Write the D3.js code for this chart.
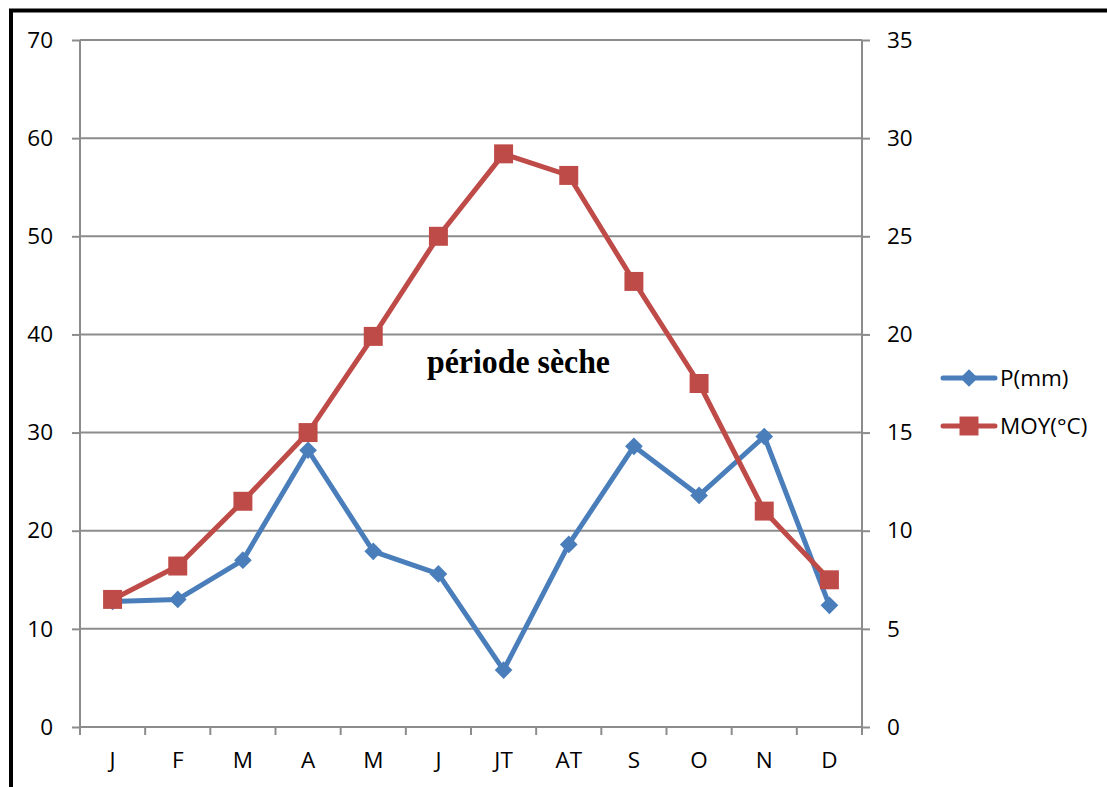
<!DOCTYPE html>
<html>
<head>
<meta charset="utf-8">
<script src="https://cdn.jsdelivr.net/npm/d3@7"></script>
<style>
  html, body { margin: 0; padding: 0; background: #fff; }
  svg { display: block; }
</style>
</head>
<body>
<svg id="chart" width="1107" height="787"></svg>
<script>
// ---- Data ----
const months = ["J", "F", "M", "A", "M ", "J ", "JT", "AT", "S", "O", "N", "D"];
const monthLabels = ["J", "F", "M", "A", "M", "J", "JT", "AT", "S", "O", "N", "D"];
const precip = [12.8, 13.0, 17.0, 28.2, 17.9, 15.6, 5.8, 18.6, 28.6, 23.6, 29.6, 12.4];   // P(mm)
const temp = [6.5, 8.2, 11.5, 15.0, 19.9, 25.0, 29.2, 28.1, 22.7, 17.5, 11.0, 7.5];        // MOY(°C)
const leftTicks = [0, 10, 20, 30, 40, 50, 60, 70];
const rightTicks = [0, 5, 10, 15, 20, 25, 30, 35];
const seriesNames = ["P(mm)", "MOY(°C)"];
const annotation = "période sèche";

// ---- Layout ----
const svg = d3.select("#chart");
const plotLeft = 80, plotRight = 862, plotTop = 40, plotBottom = 727;
const blue = "#4A7EBB", red = "#BE4B48", grid = "#8C8C8C";
const font = "'Open Sans', Lato, sans-serif";
const fontSize = 22.5;

const x = d3.scaleBand().domain(months).range([plotLeft, plotRight]);
const yL = d3.scaleLinear().domain([0, 70]).range([plotBottom, plotTop]);
const yR = d3.scaleLinear().domain([0, 35]).range([plotBottom, plotTop]);

// outer frame
svg.append("rect").attr("x", 11).attr("y", 10.5).attr("width", 1200).attr("height", 900)
  .attr("fill", "none").attr("stroke", "#000").attr("stroke-width", 4);

// gridlines
svg.append("g").selectAll("line").data(leftTicks).join("line")
  .attr("x1", plotLeft).attr("x2", plotRight)
  .attr("y1", d => yL(d)).attr("y2", d => yL(d))
  .attr("stroke", grid).attr("stroke-width", 2);

// left axis
const gl = svg.append("g").attr("transform", `translate(${plotLeft},0)`)
  .call(d3.axisLeft(yL).tickValues(leftTicks).tickSize(8).tickPadding(19).tickFormat(d3.format("d")));
// right axis
const gr = svg.append("g").attr("transform", `translate(${plotRight},0)`)
  .call(d3.axisRight(yR).tickValues(rightTicks).tickSize(8).tickPadding(17).tickFormat(d3.format("d")));
// bottom axis
const gb = svg.append("g").attr("transform", `translate(0,${plotBottom})`)
  .call(d3.axisBottom(x).tickSize(0).tickPadding(0).tickFormat((d, i) => monthLabels[i]));

[gl, gr, gb].forEach(g => {
  g.select(".domain").attr("stroke", grid).attr("stroke-width", 2);
  g.selectAll(".tick line").attr("stroke", grid).attr("stroke-width", 2);
  g.selectAll("text").attr("font-family", font).attr("font-size", fontSize).attr("fill", "#000");
});
gl.select(".domain").attr("d", `M0,${plotTop}V${plotBottom + 8}`);
gr.select(".domain").attr("d", `M0,${plotTop}V${plotBottom + 8}`);
gb.select(".domain").attr("d", `M${plotLeft},0H${plotRight}`);
gb.selectAll(".tick text").attr("y", 41).attr("dy", 0);

// category boundary ticks
const bounds = months.map(m => x(m)).concat([plotRight]);
svg.append("g").selectAll("line").data(bounds).join("line")
  .attr("x1", d => d).attr("x2", d => d)
  .attr("y1", plotBottom).attr("y2", plotBottom + 8)
  .attr("stroke", grid).attr("stroke-width", 2);

const cx = d => x(d) + x.bandwidth() / 2;
const diamond = d3.symbol().type(d3.symbolDiamond2).size(200);
const square = d3.symbol().type(d3.symbolSquare).size(360);

// P series
svg.append("path").datum(precip)
  .attr("d", d3.line().x((d, i) => cx(months[i])).y(d => yL(d)))
  .attr("fill", "none").attr("stroke", blue).attr("stroke-width", 5)
  .attr("stroke-linejoin", "round").attr("stroke-linecap", "round");
svg.append("g").selectAll("path").data(precip).join("path")
  .attr("d", diamond)
  .attr("transform", (d, i) => `translate(${cx(months[i])},${yL(d)})`)
  .attr("fill", blue);

// MOY series
svg.append("path").datum(temp)
  .attr("d", d3.line().x((d, i) => cx(months[i])).y(d => yR(d)))
  .attr("fill", "none").attr("stroke", red).attr("stroke-width", 5)
  .attr("stroke-linejoin", "round").attr("stroke-linecap", "round");
svg.append("g").selectAll("path").data(temp).join("path")
  .attr("d", square)
  .attr("transform", (d, i) => `translate(${cx(months[i])},${yR(d)})`)
  .attr("fill", red);

// annotation
svg.append("text").attr("x", 427).attr("y", 373)
  .attr("font-family", "'Liberation Serif', 'Times New Roman', serif")
  .attr("font-weight", "bold").attr("font-size", 33)
  .attr("textLength", 183).attr("lengthAdjust", "spacingAndGlyphs")
  .text(annotation);

// legend
const legend = svg.append("g");
const legendY = [378, 426];
const colors = [blue, red];
const symbols = [diamond, square];
seriesNames.forEach((name, i) => {
  const g = legend.append("g").attr("transform", `translate(0,${legendY[i]})`);
  g.append("line").attr("x1", 943).attr("x2", 995).attr("y1", 0).attr("y2", 0)
    .attr("stroke", colors[i]).attr("stroke-width", 5).attr("stroke-linecap", "round");
  g.append("path").attr("d", symbols[i]).attr("transform", "translate(969,0)").attr("fill", colors[i]);
  g.append("text").attr("x", 1000).attr("y", 0).attr("dy", "0.35em")
    .attr("font-family", font).attr("font-size", fontSize).attr("fill", "#000").text(name);
});
</script>
</body>
</html>
